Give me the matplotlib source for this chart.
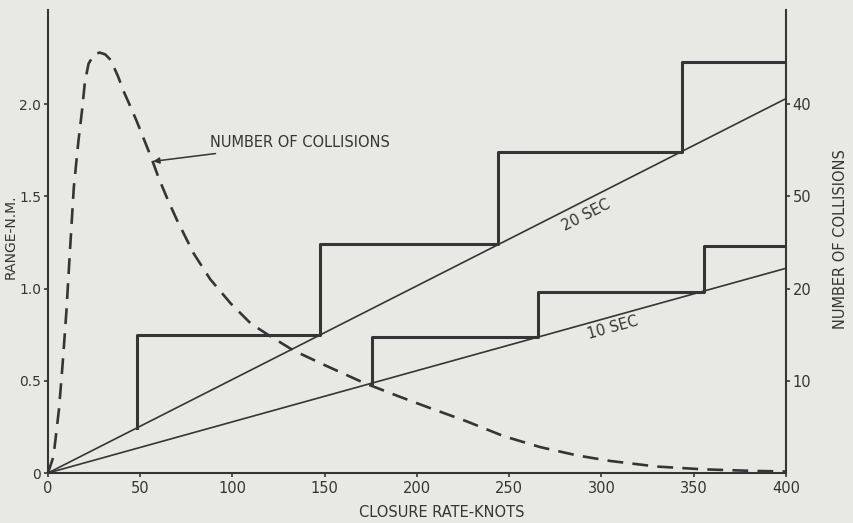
import numpy as np
import matplotlib
matplotlib.use("Agg")
import matplotlib.pyplot as plt

# closure rate (knots) vs range (N.M.)
speed_curve = [0, 3, 6, 8, 10, 12, 14, 16.5, 18.5, 20, 22, 25, 28, 31, 34, 38, 41, 45, 48,
               52, 56, 60, 65, 70, 79, 88, 99, 110, 120, 133, 150, 171, 189, 205, 227,
               247, 267, 287, 305, 330, 355, 380, 400]
collisions_curve = [0, 0.09, 0.35, 0.6, 0.88, 1.22, 1.55, 1.8, 1.97, 2.12, 2.22, 2.27, 2.28,
                    2.27, 2.24, 2.15, 2.07, 1.98, 1.91, 1.81, 1.71, 1.60, 1.48, 1.37, 1.19,
                    1.05, 0.92, 0.81, 0.745, 0.665, 0.585, 0.49, 0.42, 0.36, 0.28, 0.20,
                    0.14, 0.095, 0.065, 0.035, 0.02, 0.012, 0.008]

line_speed = [0, 400]
line_20sec = [0, 2.03]
line_10sec = [0, 1.11]

step20_speed = [48, 48, 147.5, 244, 343.6, 400]
step20_range = [0.245, 0.75, 1.24, 1.74, 2.23, 2.23]
step10_speed = [175.5, 175.5, 265.4, 355.5, 400]
step10_range = [0.487, 0.74, 0.98, 1.23, 1.23]

x_ticks = [0, 50, 100, 150, 200, 250, 300, 350, 400]
y_ticks = [0, 0.5, 1.0, 1.5, 2.0]
y_tick_labels = ['0', '0.5', '1.0', '1.5', '2.0']
right_ticks = [10, 20, 30, 40]
right_tick_labels = ['10', '20', '50', '40']   # printed that way on the original

bg = '#e8e8e4'
ink = '#353535'

plt.rcParams['font.family'] = ['DejaVu Sans']

fig = plt.figure(figsize=(8.54, 5.23), dpi=100, facecolor=bg)
ax = fig.add_axes([0.0562, 0.0956, 0.864, 0.885])
ax.set_facecolor(bg)

ax.plot(line_speed, line_20sec, color=ink, lw=1.2)
ax.plot(line_speed, line_10sec, color=ink, lw=1.2)
ax.plot(step20_speed, step20_range, drawstyle='steps-post', color=ink, lw=2.2)
ax.plot(step10_speed, step10_range, drawstyle='steps-post', color=ink, lw=2.2)
ax.plot(speed_curve, collisions_curve, color=ink, lw=1.9, dashes=(6, 3.5))

ax.set_xlim(0, 400)
ax.set_ylim(0, 2.51)
ax.spines['top'].set_visible(False)
for s in ['left', 'right', 'bottom']:
    ax.spines[s].set_color(ink)
    ax.spines[s].set_linewidth(1.5)

ax.set_xticks(x_ticks)
ax.set_xticklabels([str(t) for t in x_ticks])
ax.set_yticks(y_ticks)
ax.set_yticklabels(y_tick_labels)
ax.tick_params(axis='x', colors=ink, labelcolor=ink, labelsize=10.5, length=3, width=1.2, pad=3)
ax.tick_params(axis='y', colors=ink, labelcolor=ink, labelsize=10, length=3, width=1.2, pad=2)

ax2 = ax.twinx()
ax2.set_ylim(0, 2.51 * 20)
ax2.set_yticks(right_ticks)
ax2.set_yticklabels(right_tick_labels)
ax2.tick_params(axis='y', colors=ink, labelcolor=ink, labelsize=10.5, length=3, width=1.2, pad=2)
for s in ax2.spines.values():
    s.set_visible(False)

ax.text(-0.05, 0.51, 'RANGE-N.M.', transform=ax.transAxes, rotation=90,
        ha='center', va='center', fontsize=10, color=ink)
ax.text(0.534, -0.085, 'CLOSURE RATE-KNOTS', transform=ax.transAxes,
        ha='center', va='center', fontsize=10.5, color=ink)
ax.text(1.074, 0.505, 'NUMBER OF COLLISIONS', transform=ax.transAxes, rotation=90,
        ha='center', va='center', fontsize=10.5, color=ink)

ax.annotate('NUMBER OF COLLISIONS', xy=(57, 1.69), xytext=(88, 1.79),
            ha='left', va='center', fontsize=10.5, color=ink,
            arrowprops=dict(arrowstyle='-|>', color=ink, lw=1.1, shrinkA=2, shrinkB=0,
                            mutation_scale=9))

# text rotated along the two reference lines
for label, end, pos in [('20 SEC', line_20sec[1], (292, 1.40)), ('10 SEC', line_10sec[1], (306, 0.79))]:
    slope_deg = np.degrees(np.arctan(end / 400))
    ang = ax.transData.transform_angles(np.array([slope_deg]), np.array([pos]))[0]
    ax.text(pos[0], pos[1], label, rotation=ang, rotation_mode='anchor',
            ha='center', va='center', fontsize=10.5, color=ink)

fig.savefig('out.png', dpi=100, facecolor=bg)
